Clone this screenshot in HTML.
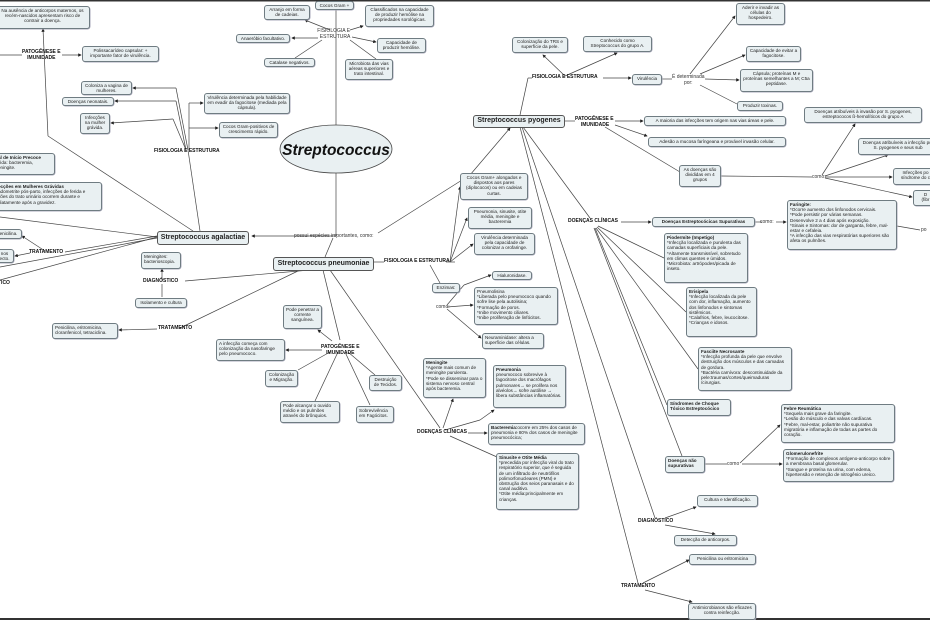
<!DOCTYPE html>
<html><head><meta charset="utf-8">
<style>
body{margin:0;width:930px;height:620px;overflow:hidden;background:#fff;position:relative;font-family:"Liberation Sans","DejaVu Sans",sans-serif;}
.b{position:absolute;box-sizing:border-box;border:1px solid #6f7c82;border-radius:3px;background:#e9f0f2;font-size:4.6px;line-height:5.2px;text-align:center;padding:1px 2px;color:#222;overflow:hidden;box-shadow:0.5px 0.5px 0 #aab;}
.l{text-align:left}
.t{position:absolute;font-size:5px;font-weight:bold;color:#111;text-align:center;line-height:5.6px;white-space:nowrap}
.n{position:absolute;font-size:5px;color:#333;white-space:nowrap}
.m{position:absolute;box-sizing:border-box;border:1px solid #555;border-radius:3px;background:#e9f0f2;font-weight:bold;font-size:7px;text-align:center;line-height:11px;color:#222;white-space:nowrap;overflow:hidden}
svg{position:absolute;left:0;top:0}
</style></head><body>
<svg width="930" height="620">
<defs><marker id="a" markerWidth="5" markerHeight="5" refX="4" refY="2.5" orient="auto"><path d="M0,0L5,2.5L0,5z" fill="#222"/></marker></defs>
<g stroke="#444" stroke-width="0.7" fill="none">
<rect x="0" y="0" width="930" height="1.5" fill="#333" stroke="none"/>
<rect x="0" y="618" width="930" height="2" fill="#333" stroke="none"/>
<line x1="336" y1="125" x2="336" y2="9"/>
<line x1="336" y1="173" x2="336" y2="236"/>
<line x1="336" y1="236" x2="252" y2="236" marker-end="url(#a)"/>
<line x1="333" y1="238" x2="325" y2="257"/>
<line x1="378" y1="233" x2="470" y2="175"/>
<line x1="470" y1="175" x2="510" y2="128" marker-end="url(#a)"/>
<line x1="330" y1="30" x2="305" y2="20" marker-end="url(#a)"/>
<line x1="318" y1="38" x2="292" y2="38" marker-end="url(#a)"/>
<line x1="322" y1="40" x2="295" y2="58"/>
<line x1="350" y1="30" x2="363" y2="26" marker-end="url(#a)"/>
<line x1="352" y1="37" x2="376" y2="42" marker-end="url(#a)"/>
<line x1="350" y1="40" x2="376" y2="59"/>
<line x1="193" y1="231" x2="48" y2="136"/>
<line x1="48" y1="136" x2="43" y2="29" marker-end="url(#a)"/>
<line x1="0" y1="55" x2="22" y2="55"/>
<line x1="62" y1="55" x2="81" y2="55" marker-end="url(#a)"/>
<line x1="200" y1="231" x2="188" y2="150"/>
<line x1="188" y1="150" x2="176" y2="88"/>
<line x1="176" y1="88" x2="133" y2="88" marker-end="url(#a)"/>
<line x1="186" y1="150" x2="176" y2="101"/>
<line x1="176" y1="101" x2="115" y2="101" marker-end="url(#a)"/>
<line x1="186" y1="150" x2="173" y2="119"/>
<line x1="173" y1="119" x2="111" y2="123" marker-end="url(#a)"/>
<line x1="189" y1="150" x2="189" y2="103"/>
<line x1="189" y1="103" x2="203" y2="103" marker-end="url(#a)"/>
<line x1="189" y1="128" x2="218" y2="128" marker-end="url(#a)"/>
<line x1="157" y1="237" x2="0" y2="217"/>
<line x1="157" y1="237" x2="0" y2="280"/>
<line x1="157" y1="236" x2="65" y2="252"/>
<line x1="45" y1="251" x2="22" y2="236" marker-end="url(#a)"/>
<line x1="30" y1="253" x2="15" y2="256" marker-end="url(#a)"/>
<line x1="157" y1="238" x2="0" y2="267"/>
<line x1="310" y1="270" x2="185" y2="281"/>
<line x1="162" y1="281" x2="162" y2="269" marker-end="url(#a)"/>
<line x1="162" y1="284" x2="162" y2="297"/>
<line x1="300" y1="270" x2="180" y2="328"/>
<line x1="157" y1="329" x2="119" y2="330" marker-end="url(#a)"/>
<line x1="374" y1="262" x2="384" y2="262"/>
<line x1="446" y1="262" x2="455" y2="262"/>
<line x1="450" y1="262" x2="460" y2="187" marker-end="url(#a)"/>
<line x1="450" y1="262" x2="467" y2="218" marker-end="url(#a)"/>
<line x1="450" y1="262" x2="473" y2="244" marker-end="url(#a)"/>
<line x1="430" y1="265" x2="440" y2="283"/>
<line x1="447" y1="305" x2="464" y2="285"/>
<line x1="464" y1="285" x2="491" y2="275" marker-end="url(#a)"/>
<line x1="447" y1="307" x2="473" y2="305" marker-end="url(#a)"/>
<line x1="447" y1="309" x2="481" y2="338" marker-end="url(#a)"/>
<line x1="323" y1="270" x2="340" y2="340"/>
<line x1="332" y1="341" x2="318" y2="330" marker-end="url(#a)"/>
<line x1="322" y1="350" x2="286" y2="350" marker-end="url(#a)"/>
<line x1="330" y1="352" x2="298" y2="370"/>
<line x1="338" y1="352" x2="315" y2="401"/>
<line x1="345" y1="352" x2="370" y2="405"/>
<line x1="348" y1="352" x2="375" y2="375"/>
<line x1="330" y1="270" x2="440" y2="428"/>
<line x1="443" y1="428" x2="453" y2="399" marker-end="url(#a)"/>
<line x1="445" y1="430" x2="480" y2="420"/>
<line x1="480" y1="420" x2="494" y2="410" marker-end="url(#a)"/>
<line x1="468" y1="433" x2="487" y2="433" marker-end="url(#a)"/>
<line x1="450" y1="436" x2="497" y2="457"/>
<line x1="520" y1="115" x2="528" y2="78"/>
<line x1="528" y1="78" x2="532" y2="78"/>
<line x1="565" y1="76" x2="543" y2="55" marker-end="url(#a)"/>
<line x1="565" y1="76" x2="617" y2="53" marker-end="url(#a)"/>
<line x1="603" y1="78" x2="631" y2="78" marker-end="url(#a)"/>
<line x1="662" y1="79" x2="672" y2="79"/>
<line x1="690" y1="74" x2="735" y2="16" marker-end="url(#a)"/>
<line x1="700" y1="74" x2="745" y2="55" marker-end="url(#a)"/>
<line x1="705" y1="79" x2="739" y2="80" marker-end="url(#a)"/>
<line x1="700" y1="85" x2="737" y2="104"/>
<line x1="565" y1="121" x2="575" y2="121"/>
<line x1="615" y1="121" x2="643" y2="121" marker-end="url(#a)"/>
<line x1="615" y1="125" x2="647" y2="136" marker-end="url(#a)"/>
<line x1="605" y1="127" x2="680" y2="172"/>
<line x1="721" y1="176" x2="812" y2="177"/>
<line x1="822" y1="175" x2="855" y2="124" marker-end="url(#a)"/>
<line x1="825" y1="176" x2="888" y2="155" marker-end="url(#a)"/>
<line x1="825" y1="177" x2="892" y2="177" marker-end="url(#a)"/>
<line x1="825" y1="178" x2="912" y2="197" marker-end="url(#a)"/>
<line x1="523" y1="127" x2="590" y2="218"/>
<line x1="621" y1="222" x2="651" y2="222" marker-end="url(#a)"/>
<line x1="755" y1="222" x2="762" y2="222"/>
<line x1="776" y1="222" x2="786" y2="222" marker-end="url(#a)"/>
<line x1="897" y1="226" x2="920" y2="230"/>
<line x1="598" y1="226" x2="664" y2="258"/>
<line x1="597" y1="227" x2="686" y2="312"/>
<line x1="596" y1="228" x2="698" y2="369"/>
<line x1="595" y1="228" x2="667" y2="405"/>
<line x1="594" y1="228" x2="682" y2="456"/>
<line x1="522" y1="127" x2="655" y2="518"/>
<line x1="520" y1="127" x2="638" y2="583"/>
<line x1="705" y1="464" x2="727" y2="464"/>
<line x1="740" y1="463" x2="780" y2="425" marker-end="url(#a)"/>
<line x1="742" y1="464" x2="782" y2="464" marker-end="url(#a)"/>
<line x1="665" y1="518" x2="696" y2="507" marker-end="url(#a)"/>
<line x1="665" y1="525" x2="715" y2="534" marker-end="url(#a)"/>
<line x1="643" y1="583" x2="689" y2="560" marker-end="url(#a)"/>
<line x1="645" y1="590" x2="692" y2="602" marker-end="url(#a)"/>
</g>
<ellipse cx="336" cy="149" rx="56" ry="24" fill="#e9f0f2" stroke="#444" stroke-width="0.8"/>
<text x="336" y="155" text-anchor="middle" font-family="Liberation Sans" font-weight="bold" font-style="italic" font-size="15.5" fill="#111">Streptococcus</text>
</svg>

<div class="b" style="left:-5px;top:6px;width:95px;height:23px">Na ausência de anticorpos maternos, os recém-nascidos apresentam risco de contrair a doença.</div>
<div class="t" style="left:22px;top:50px">PATOGÊNESE E<br>IMUNIDADE</div>
<div class="b" style="left:82px;top:46px;width:77px;height:16px">Polissacarídeo capsular: + importante fator de virulência.</div>
<div class="b" style="left:81px;top:81px;width:51px;height:14px">Coloniza a vagina de mulheres.</div>
<div class="b" style="left:62px;top:97px;width:52px;height:9px">Doenças neonatais.</div>
<div class="b" style="left:80px;top:113px;width:30px;height:21px">Infecções na mulher grávida.</div>
<div class="b" style="left:204px;top:93px;width:86px;height:21px">Virulência determinada pela habilidade em evadir da fagocitose (mediada pela cápsula).</div>
<div class="b" style="left:219px;top:122px;width:59px;height:16px">Cocos Gram-positivos de crescimento rápido.</div>
<div class="t" style="left:154px;top:149px">FISIOLOGIA E ESTRUTURA</div>
<div class="b l" style="left:-5px;top:153px;width:60px;height:22px"><b>al de Início Precoce</b><br>vida: bacteremia,<br>eningite.</div>
<div class="b l" style="left:-5px;top:182px;width:107px;height:29px"><b>ecções em Mulheres Grávidas</b><br>ndometrite pós-parto, infecções de ferida e<br>ções do trato urinário ocorrem durante e<br>diatamente após a gravidez.</div>
<div class="b" style="left:-5px;top:229px;width:27px;height:10px">enicilina.</div>
<div class="b" style="left:-5px;top:249px;width:19px;height:14px">nos<br>ecto.</div>
<div class="t" style="left:29px;top:250px">TRATAMENTO</div>
<div class="t" style="left:-2px;top:281px">TICO</div>
<div class="m" style="left:157px;top:231px;width:92px;height:14px">Streptococcus agalactiae</div>
<div class="b l" style="left:141px;top:252px;width:40px;height:17px">Meningites:<br>bacterioscopia.</div>
<div class="t" style="left:143px;top:279px">DIAGNÓSTICO</div>
<div class="b" style="left:135px;top:298px;width:52px;height:10px">Isolamento e cultura</div>

<div class="b" style="left:315px;top:1px;width:39px;height:9px">Cocos Gram +</div>
<div class="b" style="left:264px;top:5px;width:46px;height:15px">Arranjo em forma de cadeias.</div>
<div class="b" style="left:365px;top:5px;width:69px;height:22px">Classificados na capacidade de produzir hemólise na propriedades sorológicas.</div>
<div class="b" style="left:236px;top:34px;width:54px;height:9px">Anaeróbio facultativo.</div>
<div class="n" style="left:317px;top:29px;text-align:center;line-height:5.6px">FISIOLOGIA E<br>&nbsp;&nbsp;ESTRUTURA</div>
<div class="b" style="left:377px;top:38px;width:49px;height:15px">Capacidade de produzir hemólise.</div>
<div class="b" style="left:264px;top:58px;width:51px;height:9px">Catalase negativos.</div>
<div class="b" style="left:345px;top:59px;width:48px;height:21px">Microbiota das vias aéreas superiores e trato intestinal.</div>
<div class="n" style="left:294px;top:233px">possui espécies importantes, como:</div>

<div class="m" style="left:273px;top:257px;width:101px;height:14px">Streptococcus pneumoniae</div>
<div class="t" style="left:384px;top:259px">FISIOLOGIA E ESTRUTURA</div>
<div class="b" style="left:460px;top:173px;width:68px;height:27px">Cocos Gram+ alongados e dispostos aos pares (diplococos) ou em cadeias curtas.</div>
<div class="b" style="left:468px;top:207px;width:64px;height:22px">Pneumonia, sinusite, otite média, meningite e bacteremia</div>
<div class="b" style="left:474px;top:233px;width:61px;height:22px">Virulência determinada pela capacidade de colonizar a orofaringe.</div>
<div class="b" style="left:432px;top:283px;width:28px;height:10px">Enzimas:</div>
<div class="n" style="left:436px;top:304px">como:</div>
<div class="b" style="left:492px;top:271px;width:40px;height:9px">Hialuronidase.</div>
<div class="b l" style="left:474px;top:287px;width:84px;height:38px">Pneumolisina<br>*Liberada pelo pneumococo quando sofre lise pela autolisina;<br>*Formação de poros.<br>*Inibe movimento ciliares.<br>*Inibe proliferação de linfócitos.</div>
<div class="b l" style="left:482px;top:333px;width:62px;height:16px">Neuraminidase: altera a superfície das células.</div>
<div class="b" style="left:283px;top:305px;width:39px;height:24px">Pode penetrar a corrente sanguínea.</div>
<div class="t" style="left:321px;top:345px">PATOGÊNESE E<br>IMUNIDADE</div>
<div class="b l" style="left:216px;top:339px;width:69px;height:22px">A infecção começa com colonização da nasofaringe pelo pneumococo.</div>
<div class="b" style="left:265px;top:370px;width:33px;height:17px">Colonização e Migração.</div>
<div class="b l" style="left:280px;top:401px;width:60px;height:22px">Pode alcançar o ouvido médio e os pulmões através do brônquios.</div>
<div class="b" style="left:369px;top:375px;width:33px;height:16px">Destruição de Tecidos.</div>
<div class="b l" style="left:356px;top:406px;width:38px;height:17px">Sobrevivência em Fagócitos.</div>
<div class="t" style="left:158px;top:326px">TRATAMENTO</div>
<div class="b l" style="left:52px;top:323px;width:66px;height:16px">Penicilina, eritromicina, cloranfenicol, tetraciclina.</div>
<div class="t" style="left:417px;top:430px">DOENÇAS CLÍNICAS</div>
<div class="b l" style="left:423px;top:358px;width:63px;height:40px"><b>Meningite</b><br>*Agente mais comum de meningite purulenta.<br>*Pode se disseminar para o sistema nervoso central após bacteremia.</div>
<div class="b l" style="left:493px;top:365px;width:73px;height:43px"><b>Pneumonia</b><br>pneumococo sobrevive à fagocitose dos macrófagos pulmonares→ se prolifera nos alvéolos→ sofre autólise → libera substâncias inflamatórias.</div>
<div class="b l" style="left:488px;top:423px;width:97px;height:22px"><b>Bacteremia:</b>ocorre em 25% dos casos de pneumonia e 80% dos casos de meningite pneumocócica;</div>
<div class="b l" style="left:496px;top:453px;width:83px;height:57px"><b>Sinusite e Otite Média</b><br>*precedida por infecção viral do trato respiratório superior, que é seguida de um infiltrado de neutrófilos polimorfonucleares (PMN) e obstrução dos seios paranasais e do canal auditivo.<br>*Otite média:principalmente em crianças.</div>

<div class="m" style="left:473px;top:115px;width:92px;height:13px;line-height:10px">Streptococcus pyogenes</div>
<div class="t" style="left:532px;top:75px">FISIOLOGIA E ESTRUTURA</div>
<div class="b" style="left:512px;top:37px;width:56px;height:16px">Colonização do TRS e superfície da pele.</div>
<div class="b" style="left:583px;top:36px;width:69px;height:16px">Conhecido como Streptococcus do grupo A.</div>
<div class="b" style="left:632px;top:74px;width:30px;height:11px">Virulência</div>
<div class="n" style="left:672px;top:75px;text-align:center;line-height:5.6px">É determinada<br>por:</div>
<div class="b" style="left:736px;top:3px;width:49px;height:22px">Aderir e invadir as células do hospedeiro.</div>
<div class="b" style="left:746px;top:46px;width:55px;height:16px">Capacidade de evitar a fagocitose.</div>
<div class="b" style="left:740px;top:69px;width:73px;height:23px">Cápsula; proteínas M e proteínas semelhantes a M; C5a peptidase.</div>
<div class="b" style="left:737px;top:101px;width:46px;height:10px">Produzir toxinas.</div>
<div class="t" style="left:575px;top:117px">PATOGÊNESE E<br>&nbsp;IMUNIDADE</div>
<div class="b" style="left:644px;top:116px;width:142px;height:10px">A maioria das infecções tem origem nas vias áreas e pele.</div>
<div class="b" style="left:648px;top:137px;width:138px;height:10px">Adesão a mucosa faríngeana e provável invasão celular.</div>
<div class="b" style="left:679px;top:165px;width:42px;height:22px">As doenças são divididas em 4 grupos</div>
<div class="n" style="left:812px;top:174px">como:</div>
<div class="b" style="left:804px;top:107px;width:118px;height:16px">Doenças atribuíveis à invasão por S. pyogenes, estreptococos ß-hemolíticos do grupo A</div>
<div class="b" style="left:858px;top:138px;width:80px;height:17px">Doenças atribuíveis a infecção por S. pyogenes e seus sub</div>
<div class="b" style="left:893px;top:168px;width:45px;height:17px">Infecções po<br>síndrome do c</div>
<div class="b" style="left:913px;top:190px;width:25px;height:16px">D<br>(fibr</div>
<div class="t" style="left:568px;top:219px">DOENÇAS CLÍNICAS</div>
<div class="b" style="left:652px;top:217px;width:103px;height:10px;font-weight:bold">Doenças Estreptocócicas Supurativas</div>
<div class="n" style="left:760px;top:219px">como:</div>
<div class="b l" style="left:787px;top:200px;width:110px;height:50px"><b>Faringite:</b><br>*Ocorre aumento dos linfonodos cervicais.<br>*Pode persistir por várias semanas.<br>Desenvolve 2 a 4 dias após exposição.<br>*Sinais e Sintomas: dor de garganta, febre, mal-estar e cefaleia.<br>*A infecção das vias respiratórias superiores são afeta os pulmões.</div>
<div class="n" style="left:921px;top:227px">po</div>
<div class="b l" style="left:664px;top:233px;width:84px;height:50px"><b>Piodermite (Impetigo)</b><br>*Infecção localizada e purulenta das camadas superficiais da pele.<br>*Altamente transmissível, sobretudo em climas quentes e úmidos.<br>*Microbiota: artrópodes/picada de inseto.</div>
<div class="b l" style="left:686px;top:287px;width:71px;height:50px"><b>Erisipela</b><br>*Infecção localizada da pele com dor, inflamação, aumento dos linfonodos e sintomas sistêmicos.<br>*Calafrios, febre, leucocitose.<br>*Crianças e idosos.</div>
<div class="b l" style="left:698px;top:347px;width:94px;height:44px"><b>Fasciíte Necrosante</b><br>*Infecção profunda da pele que envolve destruição dos músculos e das camadas de gordura.<br>*Bactéria carnívora: descontinuidade da pele:traumas/cortes/queimaduras /cirurgias.</div>
<div class="b l" style="left:667px;top:399px;width:64px;height:17px;font-weight:bold">Síndromes de Choque Tóxico Estreptocócico</div>
<div class="b l" style="left:665px;top:456px;width:40px;height:17px;font-weight:bold">Doenças não supurativas</div>
<div class="n" style="left:727px;top:461px">como</div>
<div class="b l" style="left:781px;top:404px;width:114px;height:39px"><b>Febre Reumática</b><br>*Sequela mais grave da faringite.<br>*Lesão do músculo e das valvas cardíacas.<br>*Febre, mal-estar, poliartrite não supurativa migratória e inflamação de todas as partes do coração.</div>
<div class="b l" style="left:783px;top:449px;width:111px;height:33px"><b>Glomerulonefrite</b><br>*Formação de complexos antígeno-anticorpo sobre a membrana basal glomerular.<br>*Sangue e proteína na urina, com edema, hipertensão e retenção de nitrogênio ureico.</div>
<div class="t" style="left:638px;top:519px">DIAGNÓSTICO</div>
<div class="b" style="left:697px;top:495px;width:61px;height:12px">Cultura e Identificação.</div>
<div class="b" style="left:674px;top:535px;width:63px;height:11px">Detecção de anticorpos.</div>
<div class="t" style="left:621px;top:584px">TRATAMENTO</div>
<div class="b" style="left:689px;top:554px;width:67px;height:11px">Penicilina ou eritromicina</div>
<div class="b" style="left:688px;top:603px;width:68px;height:17px">Antimicrobianos são eficazes contra reinfecção.</div>
</body></html>
